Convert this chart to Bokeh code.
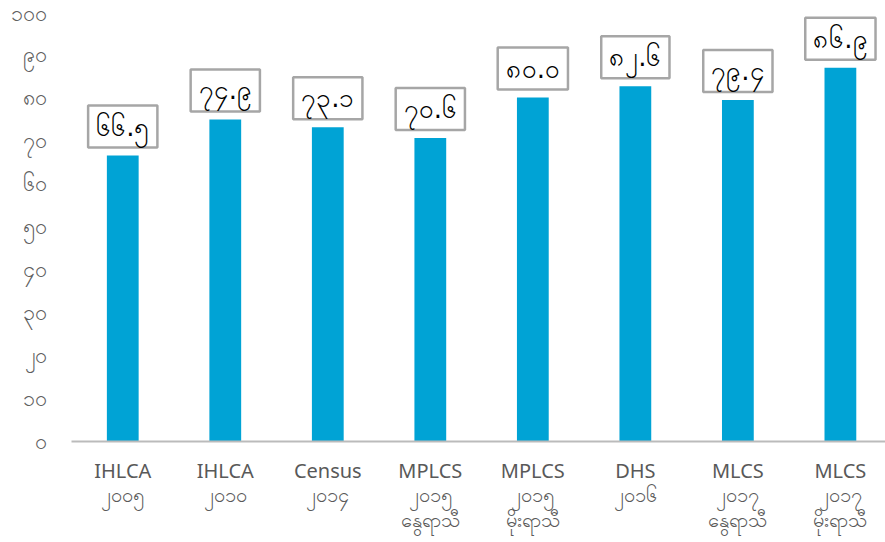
from bokeh.plotting import figure
from bokeh.models import ColumnDataSource, Range1d, FixedTicker
from bokeh.core.properties import value
from bokeh.embed import file_html
from bokeh.resources import INLINE

categories = ["IHLCA\n၂၀၀၅", "IHLCA\n၂၀၁၀", "Census\n၂၀၁၄", "MPLCS\n၂၀၁၅\nနွေရာသီ",
              "MPLCS\n၂၀၁၅\nမိုးရာသီ", "DHS\n၂၀၁၆", "MLCS\n၂၀၁၇\nနွေရာသီ", "MLCS\n၂၀၁၇\nမိုးရာသီ"]
values = [66.5, 74.9, 73.1, 70.6, 80.0, 82.6, 79.4, 86.9]
value_labels = ["၆၆.၅", "၇၄.၉", "၇၃.၁", "၇၀.၆", "၈၀.၀", "၈၂.၆", "၇၉.၄", "၈၆.၉"]
y_ticks = [0, 10, 20, 30, 40, 50, 60, 70, 80, 90, 100]
y_tick_labels = ["၀", "၁၀", "၂၀", "၃၀", "၄၀", "၅၀", "၆၀", "၇၀", "၈၀", "၉၀", "၁၀၀"]

xs = list(range(len(categories)))
src = ColumnDataSource(dict(x=xs, top=values, lab=value_labels))

p = figure(width=885, height=542, output_backend="svg", toolbar_location=None,
           x_range=Range1d(-0.5, 7.44), y_range=Range1d(0, 100),
           min_border_left=71, min_border_right=0, min_border_top=11, min_border_bottom=101)
p.outline_line_color = None
p.grid.grid_line_color = None

p.vbar(x="x", top="top", width=0.31, bottom=0, source=src, color="#00A3D5", line_color=None)

p.text(x="x", y="top", text="lab", source=src, y_offset=-29,
       text_align="center", text_baseline="middle",
       text_font=value("DejaVu Sans"), text_font_size="26px", text_color="#000000",
       background_fill_color="white", border_line_color="#A6A6A6",
       border_line_width=2.5, padding=dict(left=8, right=8, top=6, bottom=6))

p.xaxis.ticker = FixedTicker(ticks=xs)
p.xaxis.major_label_overrides = {i: c for i, c in zip(xs, categories)}
p.xaxis.major_tick_line_color = None
p.xaxis.minor_tick_line_color = None
p.xaxis.axis_line_color = "#BBBBBB"
p.xaxis.axis_line_width = 2
p.xaxis.major_label_standoff = 9
p.xaxis.major_label_text_font = "Noto Sans"
p.xaxis.major_label_text_font_size = "20px"
p.xaxis.major_label_text_line_height = 0.92
p.xaxis.major_label_text_color = "#595959"

p.yaxis.ticker = FixedTicker(ticks=y_ticks)
p.yaxis.major_label_overrides = {t: l for t, l in zip(y_ticks, y_tick_labels)}
p.yaxis.major_tick_line_color = None
p.yaxis.minor_tick_line_color = None
p.yaxis.axis_line_color = None
p.yaxis.major_label_standoff = 19
p.yaxis.major_label_text_font = "DejaVu Sans"
p.yaxis.major_label_text_font_size = "21.5px"
p.yaxis.major_label_text_color = "#5F5F5F"

open("out.html", "w").write(file_html(p, INLINE))
